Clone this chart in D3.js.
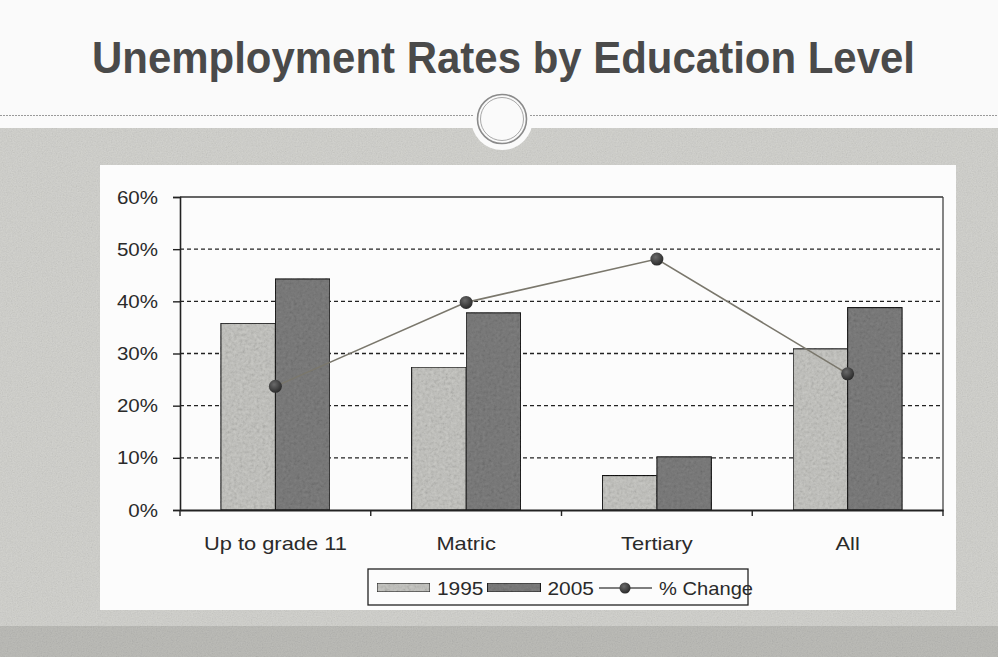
<!DOCTYPE html>
<html>
<head>
<meta charset="utf-8">
<script src="https://cdn.jsdelivr.net/npm/d3@7"></script>
<style>
  html, body { margin: 0; padding: 0; background: #fafafa; }
  svg { display: block; font-family: "Liberation Sans", Arial, sans-serif; }
</style>
</head>
<body>
<div id="chart"></div>
<script>
// data
var categories = ["Up to grade 11", "Matric", "Tertiary", "All"];
var rate1995 = [0.358, 0.274, 0.066, 0.309];
var rate2005 = [0.443, 0.378, 0.102, 0.388];
var pctChange = [0.237, 0.398, 0.481, 0.261];
var yTicks = [0, 0.1, 0.2, 0.3, 0.4, 0.5, 0.6];
var seriesNames = ["1995", "2005", "% Change"];

var W = 998, H = 657;
var margin = { top: 197, right: 55, bottom: 147, left: 180 };
var width = W - margin.left - margin.right,
    height = H - margin.top - margin.bottom;

var svg = d3.select("#chart").append("svg")
    .attr("width", W)
    .attr("height", H);

// the scan is a little wider than tall, so text glyphs look stretched
function stretch(sel, k) {
    sel.each(function() {
        var len = this.getComputedTextLength();
        d3.select(this).attr("textLength", len * k).attr("lengthAdjust", "spacingAndGlyphs");
    });
}

// grain filter, to look a bit like the scanned slide
var defs = svg.append("defs");
function addGrain(id, freq, alpha) {
    var f = defs.append("filter").attr("id", id)
        .attr("x", 0).attr("y", 0).attr("width", 1).attr("height", 1);
    f.append("feTurbulence").attr("type", "fractalNoise")
        .attr("baseFrequency", freq).attr("numOctaves", 3).attr("seed", 7).attr("result", "n");
    f.append("feColorMatrix").attr("in", "n").attr("type", "saturate").attr("values", 0).attr("result", "g");
    f.append("feComponentTransfer").attr("in", "g").attr("result", "g2")
        .append("feFuncA").attr("type", "linear").attr("slope", alpha);
    f.append("feComposite").attr("in", "g2").attr("in2", "SourceGraphic").attr("operator", "in").attr("result", "m");
    f.append("feBlend").attr("in", "SourceGraphic").attr("in2", "m").attr("mode", "multiply");
}
addGrain("grain", 0.8, 0.3);
addGrain("grainBar", 0.35, 0.55);

var dotGrad = defs.append("radialGradient").attr("id", "dot")
    .attr("cx", "40%").attr("cy", "35%").attr("r", "65%");
dotGrad.append("stop").attr("offset", "0%").attr("stop-color", "#6a6a6a");
dotGrad.append("stop").attr("offset", "100%").attr("stop-color", "#2a2a2a");

// slide background
svg.append("rect").attr("width", W).attr("height", H).attr("fill", "#fafafa");
svg.append("rect").attr("y", 128).attr("width", W).attr("height", H - 128)
    .attr("fill", "#d3d3cf").attr("filter", "url(#grain)");
svg.append("rect").attr("y", 626).attr("width", W).attr("height", H - 626)
    .attr("fill", "#bdbdb9").attr("filter", "url(#grain)");

// divider with the ring ornament
svg.append("circle").attr("cx", 502).attr("cy", 119).attr("r", 31).attr("fill", "#fafafa");
svg.append("line").attr("x1", 0).attr("x2", 474).attr("y1", 115.5).attr("y2", 115.5)
    .attr("stroke", "#9a9a9a").attr("stroke-dasharray", "2,1");
svg.append("line").attr("x1", 530).attr("x2", W).attr("y1", 115.5).attr("y2", 115.5)
    .attr("stroke", "#9a9a9a").attr("stroke-dasharray", "2,1");
svg.append("circle").attr("cx", 502).attr("cy", 119).attr("r", 24.5)
    .attr("fill", "none").attr("stroke", "#8a8a8a").attr("stroke-width", 1.6);
svg.append("circle").attr("cx", 502).attr("cy", 119).attr("r", 21.5)
    .attr("fill", "none").attr("stroke", "#a8a8a8").attr("stroke-width", 1);

// title
svg.append("text")
    .attr("x", 92).attr("y", 73)
    .attr("textLength", 823).attr("lengthAdjust", "spacingAndGlyphs")
    .attr("font-size", 44).attr("font-weight", "bold")
    .attr("fill", "#4a4a4a")
    .text("Unemployment Rates by Education Level");

// white chart panel
svg.append("rect").attr("x", 100).attr("y", 165).attr("width", 856).attr("height", 445)
    .attr("fill", "#fcfcfc");

var g = svg.append("g").attr("transform", "translate(" + margin.left + "," + margin.top + ")");

var x = d3.scaleBand().domain(categories).range([0, width]).paddingInner(0).paddingOuter(0);
var barW = x.bandwidth() / 3.5;          // excel gap width 150%
var y = d3.scaleLinear().domain([0, 0.6]).range([height, 0]);

// grid lines
g.selectAll(".grid").data(yTicks.filter(function(d) { return d > 0 && d < 0.6; }))
    .enter().append("line")
    .attr("x1", 0).attr("x2", width)
    .attr("y1", function(d) { return y(d); }).attr("y2", function(d) { return y(d); })
    .attr("stroke", "#222").attr("stroke-width", 1.3).attr("stroke-dasharray", "4,3");

// plot frame top / right
g.append("line").attr("x1", 0).attr("x2", width).attr("y1", y(0.6)).attr("y2", y(0.6))
    .attr("stroke", "#333").attr("stroke-width", 1.3);
g.append("line").attr("x1", width).attr("x2", width).attr("y1", y(0.6)).attr("y2", y(0))
    .attr("stroke", "#444").attr("stroke-width", 1.3);

// bars
var fills = ["#cacac6", "#808080"];
[rate1995, rate2005].forEach(function(vals, si) {
    g.selectAll(".bar" + si).data(vals).enter().append("rect")
        .attr("x", function(d, i) { return x(categories[i]) + x.bandwidth() / 2 - barW + si * barW; })
        .attr("y", function(d) { return y(d); })
        .attr("width", barW)
        .attr("height", function(d) { return y(0) - y(d); })
        .attr("fill", fills[si])
        .attr("stroke", "#111").attr("stroke-width", 1.1)
        .attr("filter", "url(#grainBar)");
});

// % change line
var line = d3.line()
    .x(function(d, i) { return x(categories[i]) + x.bandwidth() / 2; })
    .y(function(d) { return y(d); });
g.append("path").datum(pctChange)
    .attr("d", line).attr("fill", "none")
    .attr("stroke", "#7a776c").attr("stroke-width", 1.6);
g.selectAll(".dot").data(pctChange).enter().append("circle")
    .attr("cx", function(d, i) { return x(categories[i]) + x.bandwidth() / 2; })
    .attr("cy", function(d) { return y(d); })
    .attr("r", 6.5)
    .attr("fill", "url(#dot)");

// y axis
var yAxis = g.append("g")
    .call(d3.axisLeft(y).tickValues(yTicks).tickFormat(d3.format(".0%")).tickSize(7).tickPadding(15));
yAxis.select(".domain").attr("stroke", "#222").attr("stroke-width", 1.6);
yAxis.selectAll(".tick line").attr("stroke", "#222").attr("stroke-width", 1.4);
yAxis.selectAll("text").attr("font-size", 19).attr("fill", "#2a2a2a")
    .attr("font-family", "'Liberation Sans', Arial, sans-serif")
    .call(stretch, 1.08);

// x axis: labels at centres, tick marks at category boundaries
var xAxis = g.append("g").attr("transform", "translate(0," + height + ")")
    .call(d3.axisBottom(x).tickSize(0).tickPadding(27));
xAxis.select(".domain").attr("stroke", "#222").attr("stroke-width", 1.8);
xAxis.selectAll("text").attr("font-size", 19).attr("fill", "#2a2a2a")
    .attr("font-family", "'Liberation Sans', Arial, sans-serif")
    .call(stretch, 1.15);
xAxis.selectAll(".bound").data(d3.range(categories.length + 1)).enter().append("line")
    .attr("x1", function(i) { return i * x.step(); }).attr("x2", function(i) { return i * x.step(); })
    .attr("y1", 0).attr("y2", 6)
    .attr("stroke", "#222").attr("stroke-width", 1.4);

// legend
var lg = svg.append("g").attr("transform", "translate(368,569)");
lg.append("rect").attr("width", 380).attr("height", 36)
    .attr("fill", "#fcfcfc").attr("stroke", "#222").attr("stroke-width", 1.3);
var lx = 9;
[0, 1].forEach(function(si) {
    lg.append("rect").attr("x", lx).attr("y", 14).attr("width", 53).attr("height", 9)
        .attr("fill", fills[si]).attr("stroke", "#222").attr("stroke-width", 1.1)
        .attr("filter", "url(#grainBar)");
    var t = lg.append("text").attr("x", lx + 60).attr("y", 26)
        .attr("font-size", 19).attr("fill", "#2a2a2a").text(seriesNames[si]);
    var len = t.node().getComputedTextLength() * 1.1;
    t.attr("textLength", len).attr("lengthAdjust", "spacingAndGlyphs");
    lx = lx + 60 + len + 4;
});
lg.append("line").attr("x1", lx + 1).attr("x2", lx + 54).attr("y1", 19).attr("y2", 19)
    .attr("stroke", "#555").attr("stroke-width", 1.3);
lg.append("circle").attr("cx", lx + 27).attr("cy", 19).attr("r", 5.5).attr("fill", "url(#dot)");
lg.append("text").attr("x", lx + 61).attr("y", 26)
    .attr("font-size", 19).attr("fill", "#2a2a2a").text(seriesNames[2])
    .call(stretch, 1.06);
</script>
</body>
</html>
